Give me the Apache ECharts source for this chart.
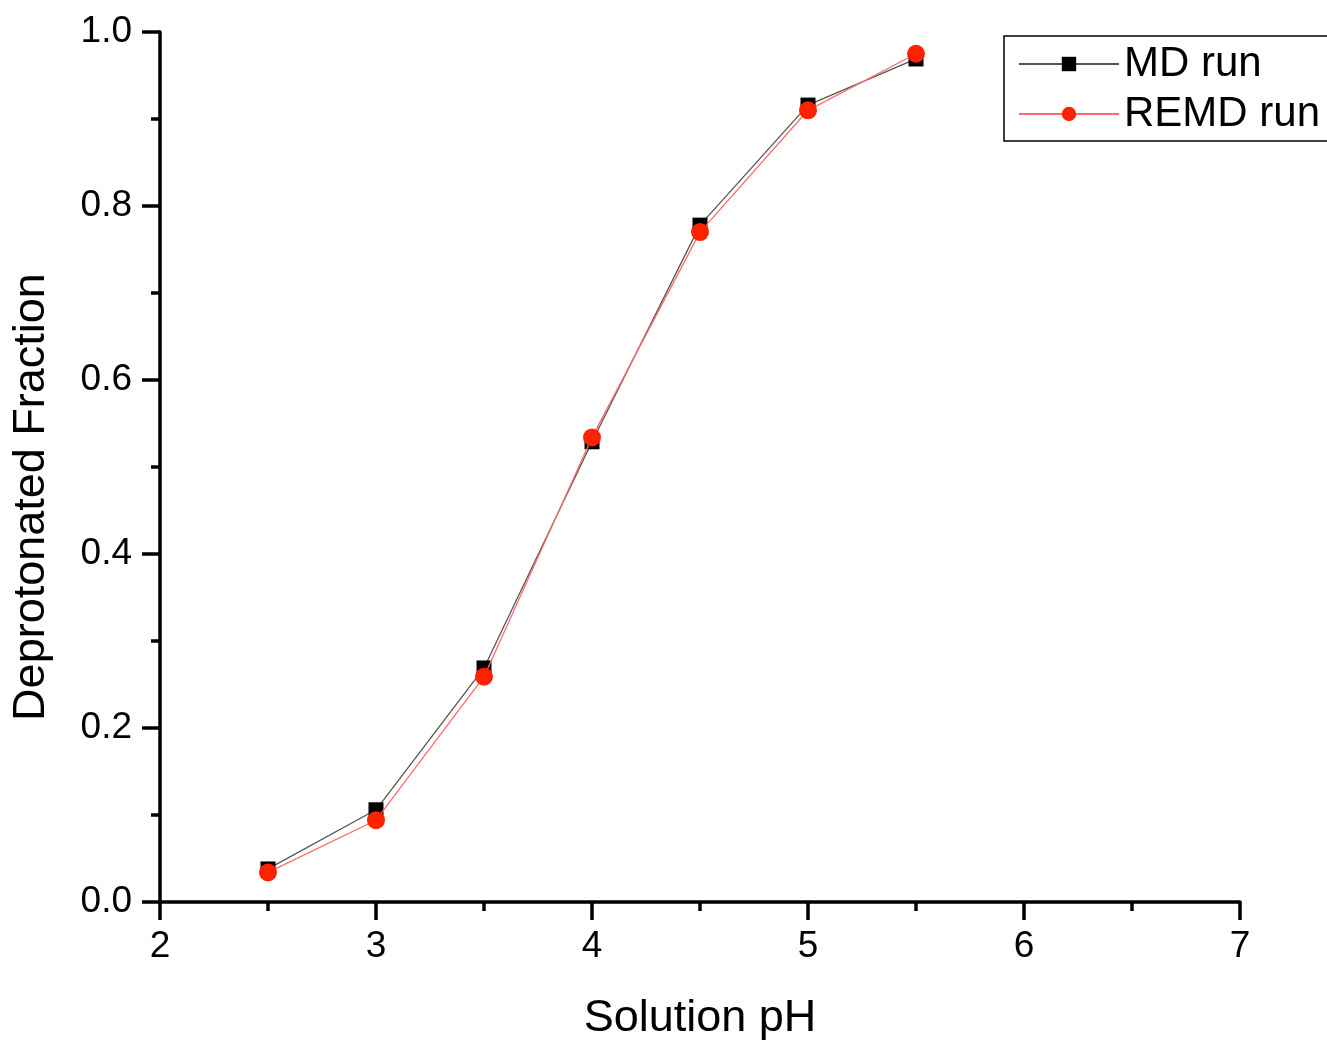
<!DOCTYPE html>
<html lang="en">
<head>
    <meta charset="UTF-8">
    <title>Deprotonated Fraction</title>
    <script src="https://cdn.jsdelivr.net/npm/echarts@6/dist/echarts.min.js"></script>
    <style>
        html, body { margin: 0; padding: 0; background: #fff; }
    </style>
</head>
<body>
    <div id="main" style="width:1327px;height:1044px;"></div>
<script type="text/javascript">
    // data
    var phValues = [2.5, 3.0, 3.5, 4.0, 4.5, 5.0, 5.5];
    var mdRun = [0.038, 0.106, 0.269, 0.529, 0.778, 0.916, 0.969];
    var remdRun = [0.034, 0.094, 0.259, 0.534, 0.770, 0.910, 0.975];

    function pairs(xs, ys) {
        var out = [];
        for (var i = 0; i < xs.length; i++) {
            out.push([xs[i], ys[i]]);
        }
        return out;
    }

    var myChart = echarts.init(document.getElementById('main'));
    var font = 'Liberation Sans, Arial, sans-serif';

    var option = {
        animation: false,
        backgroundColor: '#fff',
        grid: {
            left: 160,
            right: 87,
            top: 32,
            bottom: 142,
            containLabel: false,
            outerBoundsMode: 'none'
        },
        legend: {
            orient: 'vertical',
            left: 1004,
            top: 36,
            padding: [7, 60, 6, 14],
            itemGap: 8,
            itemWidth: 100,
            itemHeight: 18,
            borderColor: '#000',
            borderWidth: 1.5,
            textStyle: { fontSize: 42, color: '#000', fontFamily: font },
            data: ['MD run', 'REMD run']
        },
        xAxis: {
            type: 'value',
            min: 2,
            max: 7,
            interval: 1,
            name: 'Solution pH',
            nameLocation: 'middle',
            nameGap: 94,
            nameTextStyle: { fontSize: 45, color: '#000', fontFamily: font },
            axisLine: { show: true, lineStyle: { color: '#000', width: 3.5 } },
            axisTick: { show: true, inside: false, length: 18, lineStyle: { color: '#000', width: 3.5 } },
            minorTick: { show: true, splitNumber: 2, length: 9, lineStyle: { color: '#000', width: 3.5 } },
            axisLabel: { fontSize: 37, color: '#000', fontFamily: font, margin: 26 },
            splitLine: { show: false }
        },
        yAxis: {
            type: 'value',
            min: 0,
            max: 1,
            interval: 0.2,
            name: 'Deprotonated Fraction',
            nameLocation: 'middle',
            nameGap: 106,
            nameRotate: 90,
            nameTextStyle: { fontSize: 45, color: '#000', fontFamily: font, padding: [0, 60, 0, 0] },
            axisLine: { show: true, lineStyle: { color: '#000', width: 3.5 } },
            axisTick: { show: true, inside: false, length: 18, lineStyle: { color: '#000', width: 3.5 } },
            minorTick: { show: true, splitNumber: 2, length: 9, lineStyle: { color: '#000', width: 3.5 } },
            axisLabel: {
                fontSize: 37, color: '#000', fontFamily: font, margin: 28,
                formatter: function (v) { return v.toFixed(1); }
            },
            splitLine: { show: false }
        },
        series: [
            {
                name: 'MD run',
                type: 'line',
                data: pairs(phValues, mdRun),
                symbol: 'rect',
                symbolSize: 15,
                itemStyle: { color: '#000' },
                lineStyle: { color: '#555', width: 1.3 },
                z: 2
            },
            {
                name: 'REMD run',
                type: 'line',
                data: pairs(phValues, remdRun),
                symbol: 'circle',
                symbolSize: 18,
                itemStyle: { color: '#ff2200' },
                lineStyle: { color: '#ff6a6a', width: 1.3 },
                z: 3
            }
        ]
    };

    myChart.setOption(option);
</script>
</body>
</html>
